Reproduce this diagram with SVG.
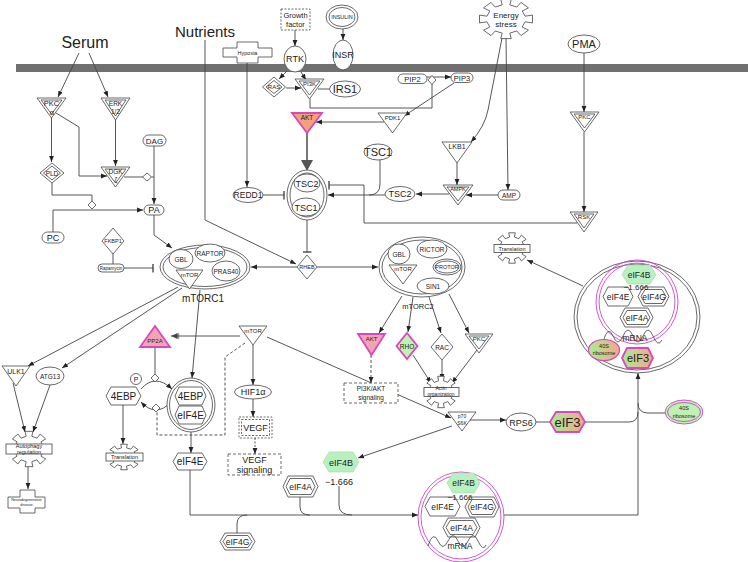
<svg xmlns="http://www.w3.org/2000/svg" width="748" height="562" viewBox="0 0 748 562">
<style>
text{font-family:"Liberation Sans",Arial,sans-serif;fill:#222;text-anchor:middle}
.n{fill:#fff;stroke:#444;stroke-width:0.8}
.nn{fill:none;stroke:#444;stroke-width:0.8}
.c{fill:none;stroke:#444;stroke-width:0.9}
.ar{marker-end:url(#a)}
.ib{marker-end:url(#b)}
.dash{stroke-dasharray:3 2}
.dot{stroke-dasharray:2 1.5}
.mg{stroke:#d848c0;stroke-width:1.8}
.mt{fill:none;stroke:#c848c8;stroke-width:0.9}
.gr{fill:#b8f0c0;stroke:#9cd8a4;stroke-width:0.6}
</style>
<defs>
<marker id="a" viewBox="0 0 10 10" refX="10" refY="5" markerWidth="6" markerHeight="6" markerUnits="userSpaceOnUse" orient="auto"><path d="M0,1L10,5L0,9z" fill="#222"/></marker>
<marker id="b" viewBox="0 0 10 10" refX="9" refY="5" markerWidth="9" markerHeight="9" markerUnits="userSpaceOnUse" orient="auto"><path d="M9,0V10" stroke="#333" stroke-width="1.4"/></marker>
<marker id="ab" viewBox="0 0 14 10" refX="14" refY="5" markerWidth="10" markerHeight="7" markerUnits="userSpaceOnUse" orient="auto"><path d="M3,1V9M5,1V9" stroke="#444" stroke-width="1"/><path d="M5,1L14,5L5,9z" fill="#444"/></marker>
<linearGradient id="go" x1="0" x2="1" y1="0" y2="0"><stop offset="0" stop-color="#a8ec98"/><stop offset="1" stop-color="#f2a884"/></linearGradient>
<polygon id="gear" fill="#fff" stroke="#444" stroke-width="0.8" vector-effect="non-scaling-stroke" points="70.6,-14.1 98.1,-19.5 98.1,19.5 70.6,14.1 59.9,40 83.2,55.6 55.6,83.2 40,59.9 14.1,70.6 19.5,98.1 -19.5,98.1 -14.1,70.6 -40,59.9 -55.6,83.2 -83.2,55.6 -59.9,40 -70.6,14.1 -98.1,19.5 -98.1,-19.5 -70.6,-14.1 -59.9,-40 -83.2,-55.6 -55.6,-83.2 -40,-59.9 -14.1,-70.6 -19.5,-98.1 19.5,-98.1 14.1,-70.6 40,-59.9 55.6,-83.2 83.2,-55.6 59.9,-40"/>
</defs>

<rect id="membrane" x="16" y="64" width="732" height="8" fill="#707070"/>

<g id="connectors">
<path class="c ar" d="M79,53L58,97"/>
<path class="c ar" d="M89,53L108,97"/>
<path class="c ar" d="M51.5,117V162"/>
<path class="c ar" d="M56,113L79,127V176H107"/>
<path class="c ar" d="M115.5,120V166"/>
<path class="c" d="M124,177H143M151.5,177H154"/>
<path class="c ar" d="M154,146V204"/>
<path class="c" d="M52,183V195H92V201"/>
<path class="c ar" d="M53,232V210H143"/>
<path class="c ar" d="M154,215V235L172,248"/>
<path class="c" d="M113,254V264"/>
<path class="c ib" d="M124,268H153"/>
<path class="c ar" d="M205,40V220L296,264"/>
<path class="c ar" d="M247,63V187"/>
<path class="c ib" d="M263,195H284"/>
<path class="c ib" d="M307,220V252"/>
<path class="c ar" d="M297,267H251"/>
<path class="c ar" d="M317,267H378"/>
<path class="c ar" d="M295,30V46"/>
<path class="c ar" d="M343,29V40"/>
<path class="c ar" d="M287,71L279,79"/>
<path class="c ar" d="M301,72L306,80"/>
<path class="c ar" d="M286,88H301"/>
<path class="c" d="M318,89H329"/>
<path class="c" d="M310,99V108H432V84"/>
<path class="c ar" d="M427,77H451"/>
<path class="c ar" d="M454,83L404,116"/>
<path class="c ar" d="M384,122H316"/>
<path d="M307,133V161" stroke="#555" stroke-width="1.6" fill="none"/>
<polygon points="301,160 313,160 307,171" fill="#555"/>
<path class="c" d="M380,160V184Q380,195 369,195"/>
<path class="c ar" d="M385,195H328"/>
<path class="c ib" d="M577,223H364V185H329"/>
<path class="c ar" d="M449,194H416"/>
<path class="c ar" d="M498,195H466"/>
<path class="c ar" d="M457,163V185"/>
<path class="c ar" d="M502,38L488,110Q485,126 471,142"/>
<path class="c ar" d="M506,38L508,190"/>
<path class="c ar" d="M584,53V112"/>
<path class="c ar" d="M584,132V212"/>
<path class="c ar" d="M583,286L527,260"/>
<path class="c ar" d="M178,287L28,366"/>
<path class="c ar" d="M182,288L62,368"/>
<path class="c ar" d="M13,383L25,432"/>
<path class="c ar" d="M50,385L33,432"/>
<path class="c ar" d="M28,467V489"/>
<path class="c ar" d="M200,290L192,378"/>
<path class="c" marker-end="url(#ab)" d="M240,336H171"/>
<path class="c" d="M155,347V374"/>
<path class="c ar" d="M141,389Q155,373 172,389"/>
<path class="c ar" d="M171,402Q156,418 141,402"/>
<path class="c dash" d="M245,343L225,357V435H157V412"/>
<path class="c ar" d="M253,345V385"/>
<path class="c ar" d="M253,399V417"/>
<path class="c ar dot" d="M255,438V454"/>
<path class="c ar" d="M123,405V444"/>
<path class="c ar" d="M191,432V453"/>
<path class="c ar" d="M190,470V515H418"/>
<path class="c" d="M237,533V524Q237,515 247,515"/>
<path class="c" d="M300,497V507Q300,515 310,515"/>
<path class="c" d="M339,486V505Q339,515 352,515"/>
<path class="c ar" d="M504,515H638V373"/>
<path class="c" d="M585,422H629Q638,422 638,412"/>
<path class="c" d="M665,413H648Q638,413 638,403"/>
<path class="c" d="M536,422H550"/>
<path class="c ar" d="M470,420H506"/>
<path class="c ar" d="M452,426L358,458"/>
<path class="c ar" d="M267,337L451,418"/>
<path class="c ar dash" d="M371,355V383"/>
<path class="c ar" d="M402,296L379,333"/>
<path class="c ar" d="M413,297L408,332"/>
<path class="c ar" d="M429,297L441,333"/>
<path class="c ar" d="M449,294L469,333"/>
<path class="c ar" d="M413,355L431,383"/>
<path class="c ar" d="M442,360V380"/>
<path class="c ar" d="M477,350L452,383"/>
</g>

<text x="85" y="48" font-size="16">Serum</text>
<text x="205" y="37" font-size="15">Nutrients</text>

<g id="PKCa"><polygon class="n" points="37,98 66,98 51.5,118"/><polygon class="nn" points="41,100 62,100 51.5,114"/><text x="51.5" y="106" font-size="7.5">PKC</text><text x="52" y="114.5" font-size="7.5">α</text></g>
<g id="ERK"><polygon class="n" points="101,98 130,98 115.5,120"/><polygon class="nn" points="105,100 126,100 115.5,116"/><text x="115.5" y="106" font-size="6.5">ERK</text><text x="115.5" y="113.5" font-size="6.5">1/2</text></g>
<g id="PLD"><polygon class="n" points="52,163 64,173 52,183 40,173"/><polygon class="nn" points="52,166 60.5,173 52,180 43.5,173"/><text x="52" y="175.5" font-size="6.5">PLD</text></g>
<g id="DGK"><polygon class="n" points="101,167 130,167 115.5,187"/><polygon class="nn" points="105,169 126,169 115.5,183"/><text x="115.5" y="174" font-size="6.5">DGK</text><text x="116" y="182" font-size="6.5">ζ</text></g>
<g id="dia1"><polygon class="n" points="147,173 151.5,177 147,181 142.5,177"/></g>
<g id="DAG"><rect class="n" x="143" y="135" width="23" height="11" rx="5.5"/><text x="154.5" y="143.5" font-size="8">DAG</text></g>
<g id="PA"><rect class="n" x="144" y="205" width="20" height="10" rx="5"/><text x="154" y="213" font-size="9">PA</text></g>
<g id="PC"><rect class="n" x="42" y="232" width="22" height="11" rx="5.5"/><text x="53" y="240.5" font-size="9">PC</text></g>
<g id="dia2"><polygon class="n" points="92,201 96,205 92,209 88,205"/></g>
<g id="FKBP1"><polygon class="n" points="113,228 124,241 113,254 102,241"/><text x="113" y="243" font-size="5.5">FKBP1</text></g>
<g id="Rapamycin"><rect class="n" x="98" y="264" width="26" height="8" rx="4"/><text x="111" y="270" font-size="4.5">Rapamycin</text></g>

<g id="mTORC1"><ellipse class="n" cx="205" cy="267" rx="45" ry="22"/><ellipse class="nn" cx="205" cy="267" rx="42" ry="19.5"/>
<ellipse class="n" cx="181" cy="259" rx="12" ry="9.5"/><text x="181" y="261.5" font-size="6.5">GBL</text>
<ellipse class="n" cx="210" cy="253" rx="15" ry="9"/><text x="210" y="255.5" font-size="6.5">RAPTOR</text>
<ellipse class="n" cx="226" cy="271" rx="14" ry="10"/><text x="226" y="273.5" font-size="6.5">PRAS40</text>
<polygon class="n" points="176,270 203,270 189.5,289"/><text x="189.5" y="277" font-size="6">mTOR</text>
<text x="203" y="302" font-size="10">mTORC1</text></g>

<g id="RHEB"><polygon class="n" points="307,255 317,267 307,279 297,267"/><text x="307" y="269" font-size="5.5">RHEB</text></g>

<g id="mTORC2"><ellipse class="n" cx="422" cy="267" rx="43" ry="30"/><ellipse class="nn" cx="422" cy="267" rx="40" ry="27"/>
<ellipse class="n" cx="399" cy="254" rx="11" ry="10"/><text x="399" y="256.5" font-size="6.5">GBL</text>
<ellipse class="n" cx="432" cy="249" rx="15" ry="9"/><text x="432" y="251.5" font-size="6.5">RICTOR</text>
<polygon class="n" points="389,265 417,265 403,284"/><text x="403" y="271" font-size="6">mTOR</text>
<ellipse class="n" cx="447" cy="267" rx="14" ry="8"/><ellipse class="nn" cx="447" cy="267" rx="12" ry="6"/><text x="447" y="269" font-size="5.5">PROTOR</text>
<ellipse class="n" cx="433" cy="286" rx="16" ry="8"/><text x="433" y="288.5" font-size="6.5">SIN1</text>
<text x="418" y="309" font-size="7.5">mTORC2</text></g>

<g id="TSCcomplex"><ellipse class="n" cx="307" cy="195" rx="20" ry="25"/><ellipse class="nn" cx="307" cy="195" rx="17" ry="22"/>
<ellipse class="n" cx="307" cy="183" rx="13" ry="9"/><text x="307" y="186.5" font-size="9">TSC2</text>
<ellipse class="n" cx="306" cy="207" rx="14" ry="9"/><text x="306" y="210.5" font-size="9">TSC1</text></g>
<g id="REDD1"><ellipse class="n" cx="248" cy="195" rx="15" ry="7.5"/><text x="248" y="198" font-size="8.5">REDD1</text></g>
<g id="TSC2"><ellipse class="n" cx="400" cy="194" rx="15" ry="7.5"/><text x="400" y="197" font-size="9">TSC2</text></g>
<g id="TSC1"><ellipse class="n" cx="378" cy="152" rx="14" ry="8"/><text x="378" y="156" font-size="11">TSC1</text></g>
<g id="AKT1"><polygon points="292,113 322,113 307,133" fill="#f4a07c" class="mg"/><text x="307" y="120" font-size="6.5">AKT</text></g>
<g id="PDK1"><polygon class="n" points="378,113 407,113 392.5,133"/><text x="392.5" y="120" font-size="6">PDK1</text></g>
<g id="PI3K"><polygon class="n" points="295,79 324,79 309.5,99"/><polygon class="nn" points="299,81 320,81 309.5,95"/><text x="309.5" y="86" font-size="6">PI3K</text></g>
<g id="IRS1"><ellipse class="n" cx="345" cy="89" rx="15.5" ry="8"/><text x="345" y="93" font-size="11">IRS1</text></g>
<g id="RAS"><polygon class="n" points="274,77 285.5,87 274,97 262.5,87"/><polygon class="nn" points="274,80.5 282,87 274,93.5 266,87"/><text x="274" y="89" font-size="6">RAS</text></g>
<g id="RTK"><ellipse class="n" cx="295" cy="59" rx="11" ry="13"/><text x="295" y="62" font-size="9">RTK</text></g>
<g id="INSR"><ellipse class="n" cx="343" cy="55" rx="10" ry="15"/><text x="343" y="58" font-size="9">INSR</text></g>
<g id="INSULIN"><ellipse class="n" cx="342" cy="17" rx="16" ry="12"/><ellipse class="nn" cx="342" cy="17" rx="13" ry="9.5"/><text x="342" y="19" font-size="5.5">INSULIN</text></g>
<g id="GrowthFactor"><rect class="n dot" x="281" y="9" width="29" height="21"/><text x="295.5" y="18" font-size="7.5">Growth</text><text x="295.5" y="27" font-size="7.5">factor</text></g>
<g id="Hypoxia"><path class="n" d="M223,48H237V42H258V48H272V57H258V63H237V57H223Z"/><text x="247.5" y="54.5" font-size="5.5">Hypoxia</text></g>
<g id="PIP2"><rect class="n" x="398" y="74" width="29" height="9.5" rx="4.75"/><text x="412.5" y="81.5" font-size="7.5">PIP2</text></g>
<g id="dia3"><polygon class="n" points="432,75.5 436,80 432,84.5 428,80"/></g>
<g id="PIP3"><rect class="n" x="451" y="73" width="22" height="9.5" rx="4.75"/><text x="462" y="80.5" font-size="7.5">PIP3</text></g>
<g id="EnergyStress"><use href="#gear" transform="translate(506,19) scale(0.27,0.2)"/><text x="506" y="18" font-size="8">Energy</text><text x="506" y="27" font-size="8">stress</text></g>
<g id="PMA"><ellipse class="n" cx="584" cy="44" rx="16" ry="9"/><text x="584" y="48" font-size="11">PMA</text></g>
<g id="PKC1"><polygon class="n" points="570,112 599,112 584.5,132"/><polygon class="nn" points="574,114 595,114 584.5,128"/><text x="584.5" y="119" font-size="6">PKC</text></g>
<g id="LKB1"><polygon class="n" points="442,142 472,142 457,163"/><text x="457" y="149" font-size="7">LKB1</text></g>
<g id="AMPK"><polygon class="n" points="443,185 473,185 458,205"/><polygon class="nn" points="447,187 469,187 458,201"/><text x="458" y="191" font-size="5.5">AMPK</text></g>
<g id="AMP"><rect class="n" x="498" y="190" width="22" height="10" rx="5"/><text x="509" y="197.5" font-size="6.5">AMP</text></g>
<g id="RSK"><polygon class="n" points="570,212 598,212 584,232"/><polygon class="nn" points="574,214 594,214 584,228"/><text x="584" y="219" font-size="6">RSK</text></g>
<g id="Translation1"><use href="#gear" transform="translate(512,248) scale(0.17,0.155)"/><rect class="n" x="494" y="244.5" width="36" height="8"/><text x="512" y="250.5" font-size="5.5">Translation</text></g>

<g id="TranslationComplex"><ellipse class="n" cx="637" cy="317" rx="63" ry="56"/><ellipse class="nn" cx="637" cy="317" rx="60" ry="53"/>
<ellipse class="mt" cx="637" cy="302" rx="41" ry="42"/><ellipse class="mt" cx="637" cy="302" rx="38" ry="39"/>
<polygon class="gr" points="622,274.5 628,265 650,265 656,274.5 650,284 628,284"/><text x="639" y="277.5" font-size="8.5">eIF4B</text>
<polygon class="n" points="603,296.5 608,287 628,287 633,296.5 628,306 608,306"/><text x="618" y="299.5" font-size="8.5">eIF4E</text>
<polygon class="n" points="638,296.5 643,287 664,287 669,296.5 664,306 643,306"/><polygon class="nn" points="641,296.5 645,289.5 662,289.5 666,296.5 662,303.5 645,303.5"/><text x="654" y="299.5" font-size="8.5">eIF4G</text>
<text x="636" y="290" font-size="8">−1.666</text>
<polygon class="n" points="620,317.5 625,308 648,308 653,317.5 648,327 625,327"/><polygon class="nn" points="623,317.5 627,310.5 646,310.5 650,317.5 646,324.5 627,324.5"/><text x="637" y="320.5" font-size="8.5">eIF4A</text>
<path class="nn" d="M603,342Q608,324 613,336T623,336T633,336T643,336T653,336T662,340"/><text x="635" y="341" font-size="8.5">mRNA</text>
<ellipse cx="604" cy="350" rx="15.5" ry="10.5" fill="url(#go)" stroke="#d848c0" stroke-width="1.2"/><text x="604" y="348" font-size="5.5">40S</text><text x="604" y="355" font-size="5.5">ribosome</text>
<polygon points="622,358 627,348 648,348 653,358 648,368 627,368" fill="url(#go)" class="mg"/><text x="638" y="362" font-size="11">eIF3</text></g>

<g id="AKT2"><polygon points="358,334 385,334 371.5,355" fill="#f2a4b4" class="mg"/><text x="371.5" y="341" font-size="6">AKT</text></g>
<g id="RHO"><polygon points="407,333 417.5,346 407,359 396.5,346" fill="#bff0b4" class="mg"/><text x="407" y="348.5" font-size="6.5">RHO</text></g>
<g id="RAC"><polygon class="n" points="442,334 453,347 442,360 431,347"/><text x="442" y="349.5" font-size="6.5">RAC</text></g>
<g id="PKC2"><polygon class="n" points="465,334 493,334 479,353"/><polygon class="nn" points="469,336 489,336 479,349"/><text x="479" y="341" font-size="6">PKC</text></g>
<g id="Actin"><use href="#gear" transform="translate(441,392) scale(0.17,0.16)"/><rect class="n" x="424" y="387.5" width="35" height="9"/><text x="441" y="390" font-size="5">Actin</text><text x="441" y="396" font-size="5">organization</text></g>
<g id="PI3KAKTsignaling"><rect class="n dash" x="344" y="383" width="54" height="20"/><text x="371" y="391" font-size="6.5">PI3K/AKT</text><text x="371" y="400" font-size="6.5">signaling</text></g>
<g id="S6K"><polygon class="n" points="448,412 476,412 462,431"/><text x="462" y="418" font-size="5">p70</text><text x="462" y="425" font-size="5">S6K</text></g>
<g id="RPS6"><ellipse class="n" cx="521" cy="422" rx="15" ry="9"/><text x="521" y="425.5" font-size="9">RPS6</text></g>
<g id="eIF3"><polygon points="550,422 556,412 579,412 585,422 579,432 556,432" fill="url(#go)" class="mg"/><text x="567.5" y="427" font-size="13">eIF3</text></g>
<g id="ribosome40S"><ellipse cx="684" cy="412" rx="19" ry="12" fill="#bff0b4" stroke="#c848c8" stroke-width="0.9"/><ellipse class="mt" cx="684" cy="412" rx="16.5" ry="9.5"/><text x="684" y="410" font-size="5.5">40S</text><text x="684" y="417.5" font-size="5.5">ribosome</text></g>
<g id="eIF4B"><polygon class="gr" points="323,462 329,452 353,452 359,462 353,472 329,472"/><text x="341" y="465.5" font-size="9">eIF4B</text><text x="339" y="485" font-size="9">−1.666</text></g>
<g id="eIF4A"><polygon class="n" points="283,486.5 288,476 313,476 318,486.5 313,497 288,497"/><polygon class="nn" points="286,486.5 290,478.5 311,478.5 315,486.5 311,494.5 290,494.5"/><text x="300.5" y="490" font-size="8.5">eIF4A</text></g>
<g id="eIF4G"><polygon class="n" points="220,541.5 225,533 250,533 255,541.5 250,550 225,550"/><polygon class="nn" points="223,541.5 227,535.5 248,535.5 252,541.5 248,547.5 227,547.5"/><text x="237.5" y="544.5" font-size="8.5">eIF4G</text></g>
<g id="eIF4E"><polygon class="n" points="173,461.5 178,453 202,453 207,461.5 202,470 178,470"/><text x="190" y="465" font-size="10">eIF4E</text></g>

<g id="InitiationComplex"><ellipse cx="461" cy="517" rx="43" ry="45" fill="#fff" stroke="#c848c8" stroke-width="0.9"/><ellipse class="mt" cx="461" cy="517" rx="40" ry="42"/>
<polygon class="gr" points="447,483 453,473 474,473 480,483 474,493 453,493"/><text x="463.5" y="486" font-size="8.5">eIF4B</text>
<polygon class="n" points="425,506.5 430,497 455,497 460,506.5 455,516 430,516"/><text x="442.5" y="510" font-size="8.5">eIF4E</text>
<polygon class="n" points="465,507 470,497 494,497 499,507 494,517 470,517"/><polygon class="nn" points="468,507 472,499.5 492,499.5 496,507 492,514.5 472,514.5"/><text x="482" y="510" font-size="8.5">eIF4G</text>
<text x="460" y="500" font-size="8">−1.666</text>
<polygon class="n" points="443,527.5 448,518 475,518 480,527.5 475,537 448,537"/><polygon class="nn" points="446,527.5 450,520.5 473,520.5 477,527.5 473,534.5 450,534.5"/><text x="461.5" y="531" font-size="8.5">eIF4A</text>
<path class="nn" d="M428,546Q433,530 438,541T448,541T458,541T468,541T478,541T486,545"/><text x="460" y="549" font-size="8.5">mRNA</text></g>

<g id="EBP4"><polygon class="n" points="106,396 111,387 136,387 141,396 136,405 111,405"/><text x="123.5" y="399.5" font-size="10">4EBP</text></g>
<g id="P"><circle class="n" cx="136" cy="379" r="5.5"/><text x="136" y="381.5" font-size="7">P</text></g>
<g id="dia4"><polygon class="n" points="155,374 159,378 155,382 151,378"/></g>
<g id="dia5"><polygon class="n" points="156,404 160,408 156,412 152,408"/></g>
<g id="EBPcomplex"><ellipse class="n" cx="191" cy="405" rx="24" ry="27"/><ellipse class="nn" cx="191" cy="405" rx="21.5" ry="24.5"/>
<polygon class="n" points="175,396 179,387 202,387 206,396 202,405 179,405"/><text x="190.5" y="399.5" font-size="10">4EBP</text>
<polygon class="n" points="175,415 179,406 202,406 206,415 202,424 179,424"/><text x="190.5" y="418.5" font-size="10">eIF4E</text></g>
<g id="PP2A"><polygon points="155,326 170,347 140,347" fill="#f2a4b4" class="mg"/><text x="155" y="343" font-size="6">PP2A</text></g>
<g id="mTOR"><polygon class="n" points="239,326 267,326 253,345"/><text x="253" y="333" font-size="6">mTOR</text></g>
<g id="HIF1a"><ellipse class="n" cx="253" cy="392" rx="18.5" ry="7"/><text x="253" y="395" font-size="9">HIF1α</text></g>
<g id="VEGF"><rect class="n dot" x="239" y="417" width="33" height="21"/><rect class="nn dot" x="241.5" y="419.5" width="28" height="16"/><text x="255.5" y="430.5" font-size="9">VEGF</text></g>
<g id="VEGFsignaling"><rect class="n dash" x="228" y="454" width="53" height="21"/><text x="254.5" y="463" font-size="9">VEGF</text><text x="254.5" y="473" font-size="9">signaling</text></g>
<g id="Translation2"><use href="#gear" transform="translate(124,457) scale(0.17,0.13)"/><rect class="n" x="106" y="453" width="37" height="8"/><text x="124.5" y="459" font-size="5.5">Translation</text></g>
<g id="ULK1"><polygon class="n" points="2,366 30,366 16,386"/><text x="16" y="373.5" font-size="7">ULK1</text></g>
<g id="ATG13"><ellipse class="n" cx="50" cy="376" rx="14" ry="9"/><text x="50" y="378.5" font-size="6.5">ATG13</text></g>
<g id="Autophagy"><use href="#gear" transform="translate(29,449) scale(0.2,0.18)"/><rect class="n" x="6" y="444" width="46" height="10"/><text x="29" y="448" font-size="5.5">Autophagy</text><text x="29" y="454" font-size="5.5">regulation</text></g>
<g id="Neuro"><path class="n" d="M8,497H20V490H35V497H45V508H35V513H20V508H8Z"/><text x="26.5" y="501" font-size="3.6">Neurodegenerative</text><text x="26.5" y="506" font-size="3.6">disease</text></g>
</svg>
